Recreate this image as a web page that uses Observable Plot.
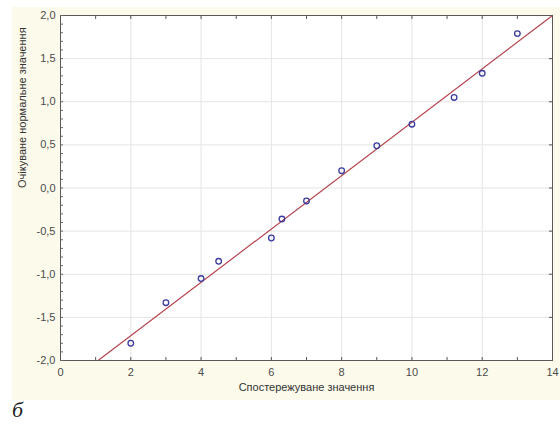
<!DOCTYPE html>
<html>
<head>
<meta charset="utf-8">
<script src="https://cdn.jsdelivr.net/npm/d3@7"></script>
<script src="https://cdn.jsdelivr.net/npm/@observablehq/plot@0.6"></script>
<style>
  html, body { margin: 0; padding: 0; background: #fff; }
  #wrap { position: relative; width: 560px; height: 426px; overflow: hidden; }
  #bg { position: absolute; left: 12px; top: 7px; width: 548px; height: 393px; background: #fcfaeb; }
  #chart { position: absolute; left: 0; top: 0; }
  #tag { position: absolute; left: 12px; top: 397px; font-family: "Liberation Serif", serif; font-style: italic; font-size: 22px; color: #222; }
</style>
</head>
<body>
<div id="wrap">
  <div id="bg"></div>
  <div id="chart"></div>
  <div id="tag">б</div>
</div>
<script>
// Data
const observed = [2, 3, 4, 4.5, 6, 6.3, 7, 8, 9, 10, 11.2, 12, 13];
const expectedNormal = [-1.80, -1.33, -1.05, -0.85, -0.58, -0.36, -0.15, 0.20, 0.49, 0.74, 1.05, 1.33, 1.79];
const fitLineX = [1.07, 14];
const fitLineY = [-2.0, 2.0];
const xTicks = [0, 2, 4, 6, 8, 10, 12, 14];
const xMinorTicks = [0, 1, 2, 3, 4, 5, 6, 7, 8, 9, 10, 11, 12, 13, 14];
const yTicks = [-2.0, -1.5, -1.0, -0.5, 0.0, 0.5, 1.0, 1.5, 2.0];
const yMinorTicks = d3.range(-20, 21).map(v => v / 10);
const xLabel = "Спостережуване значення";
const yLabel = "Очікуване нормальне значення";

const points = observed.map((x, i) => ({x, y: expectedNormal[i]}));
const fit = fitLineX.map((x, i) => ({x, y: fitLineY[i]}));
const fmtY = d => d.toFixed(1).replace(".", ",");

const chart = Plot.plot({
  width: 560,
  height: 426,
  marginLeft: 60,
  marginRight: 8,
  marginTop: 15,
  marginBottom: 66,
  style: { background: "transparent", fontFamily: "'Liberation Sans', Arial, sans-serif", fontSize: "11px", color: "#4a4a4a" },
  x: { domain: [0, 14] },
  y: { domain: [-2, 2] },
  marks: [
    Plot.frame({ fill: "white", stroke: null }),
    Plot.gridX(xTicks, { stroke: "#e4e4e4", strokeOpacity: 1 }),
    Plot.gridY(yTicks, { stroke: "#e4e4e4", strokeOpacity: 1 }),
    Plot.line(fit, { x: "x", y: "y", stroke: "#b5444e", strokeWidth: 1.2 }),
    Plot.dot(points, { x: "x", y: "y", r: 2.8, stroke: "#3c3c9e", strokeWidth: 1.3, fill: "none" }),
    Plot.frame({ stroke: "#5a5a5a", strokeWidth: 1 }),
    // inward tick marks
    Plot.axisX(xMinorTicks, { anchor: "bottom", tickSize: -3, text: null, label: null, stroke: "#555" }),
    Plot.axisX(xMinorTicks, { anchor: "top", tickSize: -3, text: null, label: null, stroke: "#555" }),
    Plot.axisY(yMinorTicks, { anchor: "left", tickSize: -3, text: null, label: null, stroke: "#666" }),
    Plot.axisY(yTicks, { anchor: "right", tickSize: -4, text: null, label: null, stroke: "#555" }),
    // tick labels
    Plot.axisX(xTicks, { anchor: "bottom", tickSize: 0, tickPadding: 8, label: null, tickFormat: d => String(d) }),
    Plot.axisY(yTicks, { anchor: "left", tickSize: 0, tickPadding: 5, label: null, tickFormat: fmtY }),
    // axis titles
    Plot.text([xLabel], { frameAnchor: "bottom", dy: 30, fill: "#333", fontSize: 11 }),
    Plot.text([yLabel], { frameAnchor: "left", dx: -38, rotate: -90, fill: "#333", fontSize: 11 })
  ]
});
document.getElementById("chart").appendChild(chart);
</script>
</body>
</html>
